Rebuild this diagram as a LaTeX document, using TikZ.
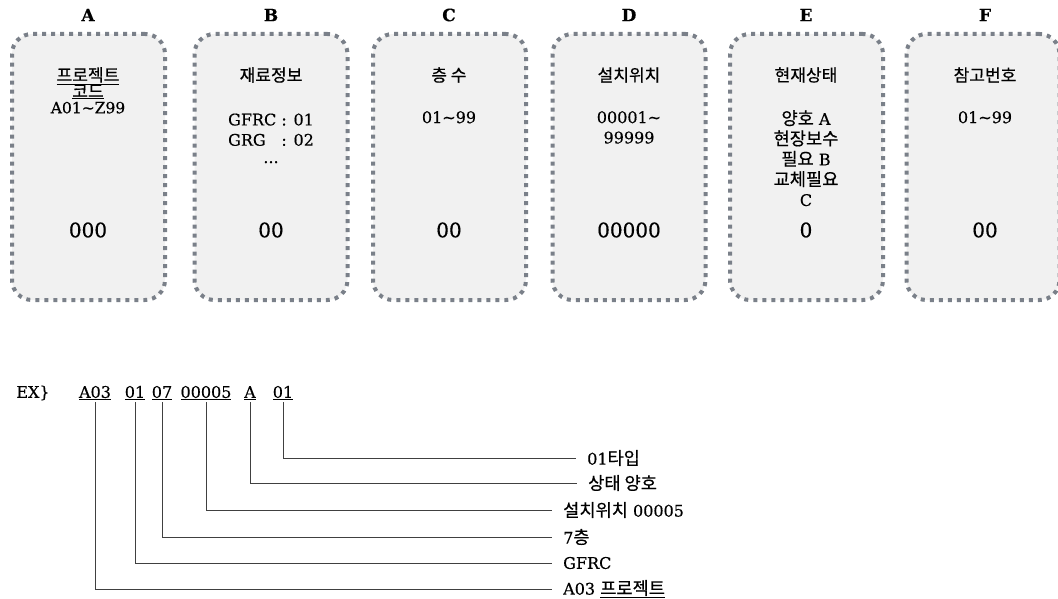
\documentclass[tikz,border=0pt]{standalone}
\usepackage{fontspec}
\setmainfont{DejaVu Serif}[FakeBold=0.4]
\newfontfamily\kr{Noto Sans CJK KR}[Scale=1.1, FakeBold=0.5]
\usepackage{xcolor}
\usetikzlibrary{positioning}
\definecolor{dotgray}{HTML}{7A8089}
\definecolor{boxfill}{HTML}{F1F1F1}

\begin{document}
\begin{tikzpicture}[
  x=1pt, y=-1pt,
  field/.style={draw=dotgray, fill=boxfill, line width=4pt, dash pattern=on 4pt off 5pt, rounded corners=20pt, minimum width=153pt, minimum height=266pt},
  letter/.style={font=\fontsize{17}{17}\selectfont\bfseries, inner sep=0pt},
  title/.style={font=\fontsize{15.5}{15}\selectfont, inner sep=0pt},
  body/.style={font=\fontsize{16}{20.3}\selectfont, align=center, anchor=north, inner sep=0pt},
  value/.style={font=\fontsize{20}{20}\selectfont, inner sep=0pt},
  code/.style={font=\fontsize{16}{16}\selectfont, inner sep=2pt},
  lbl/.style={font=\fontsize{16}{16}\selectfont, anchor=west, inner xsep=11pt, inner ysep=1pt},
  conn/.style={line width=0.9pt, draw=black!75},
]
\useasboundingbox (0,0) rectangle (1058,599);

% === FIELD BOXES ===
\node[field] (boxA) at (88.5,167) {};
\node[field] (boxB) at (271,167) {};
\node[field] (boxC) at (449.5,167) {};
\node[field] (boxD) at (629,167) {};
\node[field] (boxE) at (806.5,167) {};
\node[field] (boxF) at (983,167) {};

% Column letters
\node[letter] (letA) at (88,15) {A};
\node[letter] (letB) at (271,15) {B};
\node[letter] (letC) at (449,15) {C};
\node[letter] (letD) at (629,15) {D};
\node[letter] (letE) at (806,15) {E};
\node[letter] (letF) at (985,15) {F};

% Titles
\node[body, font=\fontsize{15.5}{16}\selectfont] (tA) at (88,67) {{\kr\underline{프로젝트}}\\{\kr\underline{코드}}\\A01\textasciitilde Z99};
\node[title] (tB) at (271,75) {\kr 재료정보};
\node[title] (tC) at (449,75) {\kr 층 수};
\node[title] (tD) at (629,75) {\kr 설치위치};
\node[title] (tE) at (806,75) {\kr 현재상태};
\node[title] (tF) at (985,75) {\kr 참고번호};

% Ranges
\node[body] (rB) at (271,111) {\begin{tabular}{@{}l@{\ }l@{}}GFRC & : 01\\GRG & : 02\\\multicolumn{2}{c}{\raisebox{3pt}{...}}\end{tabular}};
\node[body] (rC) at (449,111) {01\textasciitilde 99};
\node[body] (rD) at (629,111) {00001\textasciitilde\\99999};
\node[body] (rE) at (806,110) {{\kr 양호} A\\{\kr 현장보수}\\{\kr 필요} B\\{\kr 교체필요}\\C};
\node[body] (rF) at (985,111) {01\textasciitilde 99};

% Digit placeholders
\node[value] (vA) at (88,230) {000};
\node[value] (vB) at (271,230) {00};
\node[value] (vC) at (449,230) {00};
\node[value] (vD) at (629,230) {00000};
\node[value] (vE) at (806,230) {0};
\node[value] (vF) at (985,230) {00};

% === EXAMPLE CODE ===
\node[code] (ex) at (33,393) {EX\}};
\node[code] (cA) at (95,393) {\underline{A03}};
\node[code] (cB) at (135,393) {\underline{01}};
\node[code] (cC) at (162,393) {\underline{07}};
\node[code] (cD) at (206,393) {\underline{00005}};
\node[code] (cE) at (250,393) {\underline{A}};
\node[code] (cF) at (283,393) {\underline{01}};

% Meanings
\node[lbl] (lF) at (576,458) {01{\kr 타입}};
\node[lbl] (lE) at (577,483) {\kr 상태 양호};
\node[lbl] (lD) at (552,510) {{\kr 설치위치} 00005};
\node[lbl] (lC) at (552,537) {7{\kr 층}};
\node[lbl] (lB) at (552,563) {GFRC};
\node[lbl] (lA) at (552,589) {A03 {\kr\underline{프로젝트}}};

\draw[conn] (cF.south) |- (lF.west);
\draw[conn] (cE.south) |- (lE.west);
\draw[conn] (cD.south) |- (lD.west);
\draw[conn] (cC.south) |- (lC.west);
\draw[conn] (cB.south) |- (lB.west);
\draw[conn] (cA.south) |- (lA.west);

\end{tikzpicture}
\end{document}
